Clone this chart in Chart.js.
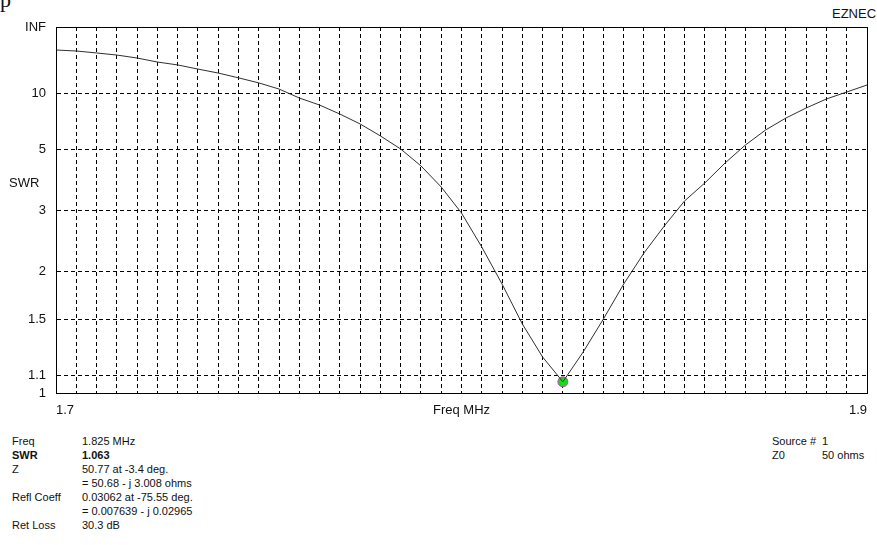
<!DOCTYPE html>
<html>
<head>
<meta charset="utf-8">
<title>SWR</title>
<script src="https://cdn.jsdelivr.net/npm/chart.js@4.4.0/dist/chart.umd.min.js"></script>
<style>
  body { margin: 0; background: #fff; width: 877px; height: 545px; position: relative; overflow: hidden;
         font-family: "Liberation Sans", Arial, sans-serif; color: #111; }
  #swrChart { position: absolute; left: 0; top: 0; }
  .corner { position: absolute; white-space: nowrap; }
  .info { position: absolute; font-size: 11px; line-height: 14px; white-space: nowrap; }
  .info .k { display: inline-block; width: 70px; }
  .info .k2 { display: inline-block; width: 50px; }
  .b { font-weight: bold; }
</style>
</head>
<body>
<div class="corner" style="left:0;top:-13px;font-family:'Liberation Serif',serif;font-size:22px;">p</div>
<div class="corner" style="left:832px;top:6px;font-size:13px;">EZNEC</div>
<canvas id="swrChart" width="877" height="430"></canvas>

<div class="info" style="left:12px;top:434px;">
  <div><span class="k">Freq</span>1.825 MHz</div>
  <div class="b"><span class="k">SWR</span>1.063</div>
  <div><span class="k">Z</span>50.77 at -3.4 deg.</div>
  <div><span class="k"></span>= 50.68 - j 3.008 ohms</div>
  <div><span class="k">Refl Coeff</span>0.03062 at -75.55 deg.</div>
  <div><span class="k"></span>= 0.007639 - j 0.02965</div>
  <div><span class="k">Ret Loss</span>30.3 dB</div>
</div>
<div class="info" style="left:772px;top:434px;">
  <div><span class="k2">Source #</span>1</div>
  <div><span class="k2">Z0</span>50 ohms</div>
</div>

<script>
// sweep, MHz
const freqMHz = [1.700, 1.705, 1.710, 1.715, 1.720, 1.725, 1.730, 1.735, 1.740, 1.745,
                 1.750, 1.755, 1.760, 1.765, 1.770, 1.775, 1.780, 1.785, 1.790, 1.795,
                 1.800, 1.805, 1.810, 1.815, 1.820, 1.825, 1.830, 1.835, 1.840, 1.845,
                 1.850, 1.855, 1.860, 1.865, 1.870, 1.875, 1.880, 1.885, 1.890, 1.895,
                 1.900];
const swr = [30.8, 29.5, 27.2, 25.1, 22.6, 19.9, 18.3, 16.4, 14.9, 13.4,
             12.1, 10.8, 9.31, 8.38, 7.41, 6.55, 5.72, 5.0, 4.27, 3.575,
             2.935, 2.327, 1.848, 1.465, 1.218, 1.063, 1.252, 1.507, 1.848, 2.239,
             2.678, 3.207, 3.693, 4.382, 5.20, 6.11, 7.04, 8.04, 9.17, 10.26,
             11.62];

// cursor
const cursorFreq = 1.825;
const cursorSwr = 1.063;

// axes
const yTickValues = [1, 1.1, 1.5, 2, 3, 5, 10, Infinity];
const yTickLabels = ['1', '1.1', '1.5', '2', '3', '5', '10', 'INF'];
const xLabelValues = [1.7, 1.9];
const xMin = 1.7, xMax = 1.9, xGridStep = 0.005;

const FONT = '"Liberation Sans", Arial, sans-serif';

// EZNEC plots SWR on a reflection coefficient scale: rho = (s-1)/(s+1)
const toRho = s => (s === Infinity ? 1 : (s - 1) / (s + 1));

class SwrScale extends Chart.LinearScale {
  determineDataLimits() {
    this.min = 1;
    this.max = Infinity;
  }
  buildTicks() {
    return yTickValues.map(v => ({ value: v }));
  }
  getPixelForValue(value) {
    return this.getPixelForDecimal(toRho(value));
  }
  getValueForPixel(pixel) {
    const r = this.getDecimalForPixel(pixel);
    return (1 + r) / (1 - r);
  }
}
SwrScale.id = 'swr';
Chart.register(SwrScale);

const xGrid = [];
for (let i = 0; i <= Math.round((xMax - xMin) / xGridStep); i++) {
  xGrid.push(Math.round((xMin + i * xGridStep) * 1000) / 1000);
}

const frameAndTitles = {
  id: 'frameAndTitles',
  afterDraw(chart) {
    const { ctx, chartArea: a } = chart;
    ctx.save();
    ctx.strokeStyle = '#000';
    ctx.lineWidth = 1;
    ctx.setLineDash([]);
    ctx.strokeRect(a.left + 0.5, a.top + 0.5, a.right - a.left, a.bottom - a.top);
    ctx.fillStyle = '#111';
    ctx.font = '13px ' + FONT;
    ctx.textBaseline = 'middle';
    ctx.textAlign = 'center';
    ctx.fillText('Freq MHz', (a.left + a.right) / 2, 410);
    ctx.textAlign = 'left';
    ctx.fillText('SWR', 9, 183);
    ctx.restore();
  }
};

new Chart(document.getElementById('swrChart'), {
  type: 'line',
  data: {
    datasets: [
      {
        data: freqMHz.map((f, i) => ({ x: f, y: swr[i] })),
        borderColor: '#303030',
        borderWidth: 1,
        pointRadius: 0,
        tension: 0,
      },
      {
        data: [{ x: cursorFreq, y: cursorSwr }],
        showLine: false,
        pointRadius: 5,
        pointBackgroundColor: '#10e010',
        pointBorderColor: '#c040c0',
        pointBorderWidth: 1,
      },
    ],
  },
  options: {
    responsive: false,
    animation: false,
    layout: { padding: { top: 27, right: 5, left: 0, bottom: 0 } },
    plugins: {
      legend: { display: false },
      tooltip: { enabled: false },
    },
    scales: {
      x: {
        type: 'linear',
        min: xMin,
        max: xMax,
        afterBuildTicks: s => { s.ticks = xGrid.map(v => ({ value: v })); },
        afterFit: s => { s.height = 37; },
        grid: { color: '#000', lineWidth: 1, drawTicks: false },
        border: { color: '#000', dash: [4, 3] },
        ticks: {
          autoSkip: false,
          maxRotation: 0,
          align: 'inner',
          padding: 10,
          color: '#111',
          font: { family: FONT, size: 13 },
          callback: v => {
            const hit = xLabelValues.find(l => Math.abs(l - v) < 1e-9);
            return hit === undefined ? '' : String(hit);
          },
        },
      },
      y: {
        type: 'swr',
        position: 'left',
        afterFit: s => { s.width = 56; },
        grid: { color: '#000', lineWidth: 1, drawTicks: false },
        border: { color: '#000', dash: [4, 3] },
        ticks: {
          padding: 10,
          color: '#111',
          font: { family: FONT, size: 13 },
          callback: (v, i) => yTickLabels[i],
        },
      },
    },
  },
  plugins: [frameAndTitles],
});
</script>
</body>
</html>
